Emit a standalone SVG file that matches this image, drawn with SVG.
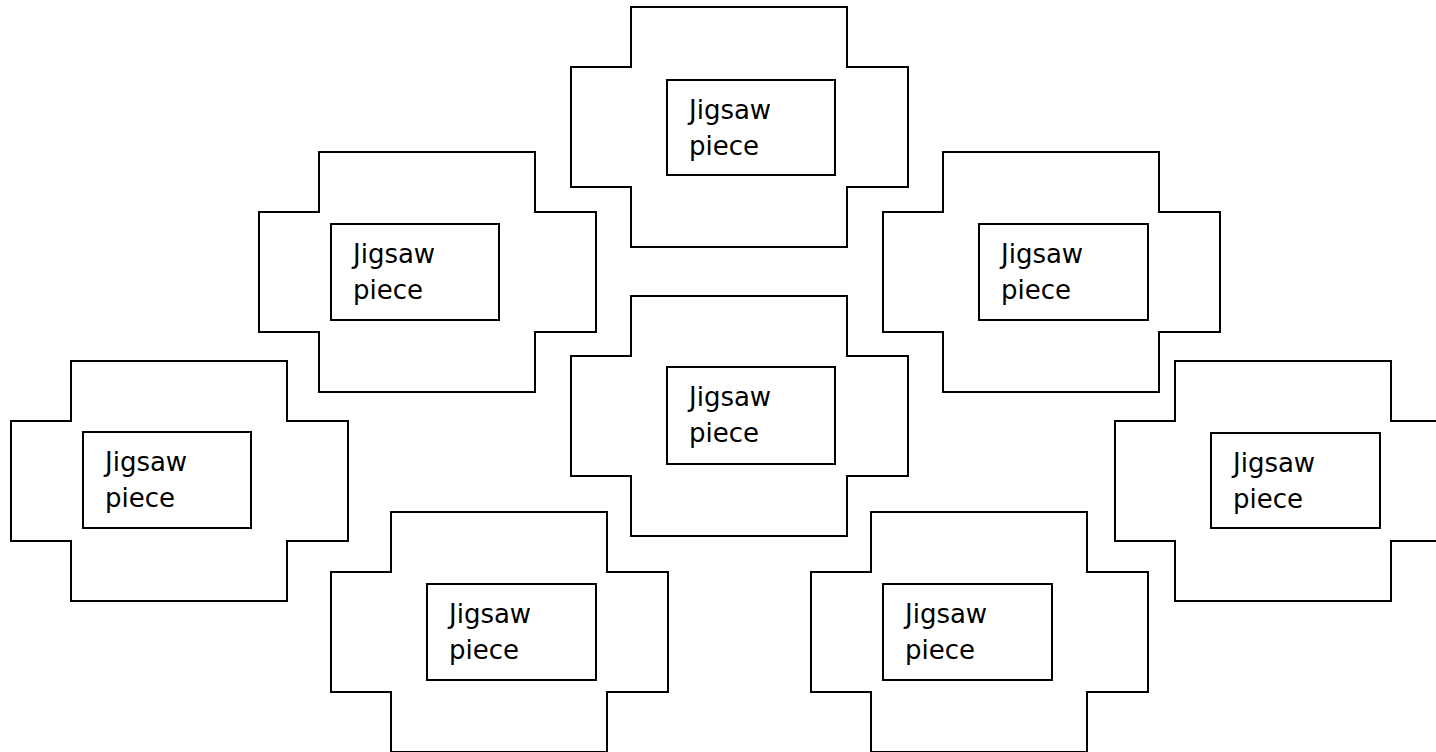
<svg xmlns="http://www.w3.org/2000/svg" width="1436" height="752" viewBox="0 0 1436 752">
<style>
.outer{fill:#fff;stroke:#000;stroke-width:2}
.inner{fill:#fff;stroke:#000;stroke-width:2}
.lbl{font-family:"DejaVu Sans","Verdana",sans-serif;font-size:26px;fill:#000}
</style>
<defs>
<path id="piece" d="M60,0 H276 V60 H337 V180 H276 V240 H60 V180 H0 V60 H60 Z"/>
</defs>
<rect width="1436" height="752" fill="#fff"/>
<g id="piece-top" transform="translate(571,7)">
<use href="#piece" class="outer"/>
<rect class="inner" x="96" y="73" width="168" height="95"/>
<text class="lbl" x="118" y="112">Jigsaw</text><text class="lbl" x="118" y="148">piece</text>
</g>
<g id="piece-upper-left" transform="translate(259,152)">
<use href="#piece" class="outer"/>
<rect class="inner" x="72" y="72" width="168" height="96"/>
<text class="lbl" x="94" y="111">Jigsaw</text><text class="lbl" x="94" y="147">piece</text>
</g>
<g id="piece-upper-right" transform="translate(883,152)">
<use href="#piece" class="outer"/>
<rect class="inner" x="96" y="72" width="169" height="96"/>
<text class="lbl" x="118" y="111">Jigsaw</text><text class="lbl" x="118" y="147">piece</text>
</g>
<g id="piece-center" transform="translate(571,296)">
<use href="#piece" class="outer"/>
<rect class="inner" x="96" y="71" width="168" height="97"/>
<text class="lbl" x="118" y="110">Jigsaw</text><text class="lbl" x="118" y="146">piece</text>
</g>
<g id="piece-left" transform="translate(11,361)">
<use href="#piece" class="outer"/>
<rect class="inner" x="72" y="71" width="168" height="96"/>
<text class="lbl" x="94" y="110">Jigsaw</text><text class="lbl" x="94" y="146">piece</text>
</g>
<g id="piece-right" transform="translate(1115,361)">
<use href="#piece" class="outer"/>
<rect class="inner" x="96" y="72" width="169" height="95"/>
<text class="lbl" x="118" y="111">Jigsaw</text><text class="lbl" x="118" y="147">piece</text>
</g>
<g id="piece-bottom-left" transform="translate(331,512)">
<use href="#piece" class="outer"/>
<rect class="inner" x="96" y="72" width="169" height="96"/>
<text class="lbl" x="118" y="111">Jigsaw</text><text class="lbl" x="118" y="147">piece</text>
</g>
<g id="piece-bottom-right" transform="translate(811,512)">
<use href="#piece" class="outer"/>
<rect class="inner" x="72" y="72" width="169" height="96"/>
<text class="lbl" x="94" y="111">Jigsaw</text><text class="lbl" x="94" y="147">piece</text>
</g>
<g id="connectors"></g>
</svg>
